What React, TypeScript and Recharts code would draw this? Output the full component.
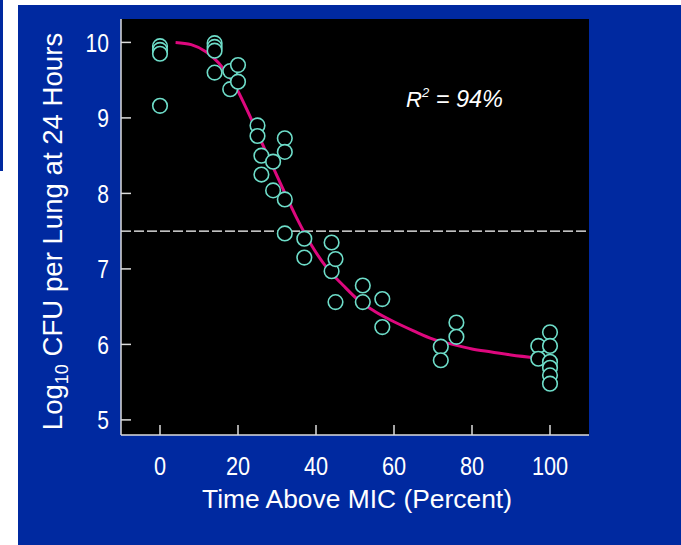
import React from 'react';
import { ComposedChart, Line, Scatter, XAxis, YAxis, ReferenceLine, CartesianGrid } from 'recharts';

// Observed points: time above MIC (%) and log10 CFU per lung at 24 h
const timeAboveMic = [0, 0, 0, 0, 14, 14, 14, 14, 18, 18, 20, 20, 25, 25, 26, 26, 29, 29, 32, 32, 32, 32, 37, 37, 44, 44, 45, 45, 52, 52, 57, 57, 72, 72, 76, 76, 97, 97, 100, 100, 100, 100, 100, 100];
const logCfu = [9.95, 9.9, 9.85, 9.16, 9.99, 9.94, 9.89, 9.6, 9.62, 9.38, 9.7, 9.48, 8.9, 8.76, 8.5, 8.25, 8.42, 8.04, 8.73, 8.55, 7.92, 7.47, 7.4, 7.15, 7.35, 6.97, 7.13, 6.56, 6.78, 6.56, 6.6, 6.23, 5.97, 5.79, 6.29, 6.1, 5.98, 5.81, 6.16, 5.98, 5.77, 5.69, 5.59, 5.48];

// Fitted sigmoid curve
const fitX = [4, 8, 12, 15, 19, 23, 27, 31, 35, 39, 43, 47, 51, 55, 60, 65, 70, 75, 80, 85, 90, 97];
const fitY = [10.0, 9.97, 9.87, 9.73, 9.45, 9.03, 8.57, 8.12, 7.68, 7.3, 7.0, 6.78, 6.58, 6.44, 6.3, 6.18, 6.07, 6.0, 5.94, 5.9, 5.86, 5.82];

const xTicks = [0, 20, 40, 60, 80, 100];
const yTicks = [5, 6, 7, 8, 9, 10];
const threshold = 7.5;
const xDomain = [-10, 110];
const yDomain = [4.8, 10.31];

const points = timeAboveMic.map((x, i) => ({ x, y: logCfu[i] }));
const fit = fitX.map((x, i) => ({ x, y: fitY[i] }));

const FONT = "'Liberation Sans', Arial, Helvetica, sans-serif";
const AXIS = '#dcdcdc';
const BLUE = '#0029A0';
const CYAN = '#6EDDC9';
const MAGENTA = '#DE087E';

const LeftTick = (props: any) => {
  const { x, y, payload } = props;
  return (
    <g>
      <line x1={x} x2={x + 10} y1={y} y2={y} stroke={AXIS} strokeWidth={1.5} />
      <text transform={`translate(${x - 12},${y + 9.3}) scale(0.81,1)`} textAnchor="end" fill="#fff" fontSize={26} fontFamily={FONT}>
        {payload.value}
      </text>
    </g>
  );
};

const RightTick = (props: any) => {
  const { x, y } = props;
  return <line x1={x - 10} x2={x} y1={y} y2={y} stroke={AXIS} strokeWidth={1.5} />;
};

const BottomTick = (props: any) => {
  const { x, y, payload } = props;
  return (
    <g>
      <line x1={x} x2={x} y1={y - 10} y2={y} stroke={AXIS} strokeWidth={1.5} />
      <text transform={`translate(${x},${y + 40}) scale(0.82,1)`} textAnchor="middle" fill="#fff" fontSize={26.5} fontFamily={FONT}>
        {payload.value}
      </text>
    </g>
  );
};

const Dot = (props: any) => {
  const { cx, cy } = props;
  return <circle cx={cx} cy={cy} r={7.3} fill="#000" stroke={CYAN} strokeWidth={1.6} />;
};

export default function App() {
  return (
    <div style={{ position: 'absolute', left: 0, top: 0, width: 681, height: 545, background: '#fff', overflow: 'hidden' }}>
      <div style={{ position: 'absolute', left: 0, top: 0, width: 3, height: 171, background: BLUE }} />
      <div style={{ position: 'absolute', left: 18, top: 5, width: 663, height: 540, background: BLUE }} />
      <div style={{ position: 'absolute', left: 0, top: 0 }}>
        <ComposedChart width={681} height={545} margin={{ top: 19, right: 92, bottom: 0, left: 0 }}>
          <CartesianGrid fill="#000" horizontal={false} vertical={false} stroke="none" />
          <XAxis
            type="number"
            dataKey="x"
            domain={xDomain}
            allowDataOverflow
            ticks={xTicks}
            interval={0}
            height={110}
            tickSize={0}
            tickMargin={0}
            tickLine={false}
            axisLine={{ stroke: AXIS, strokeWidth: 1.5 }}
            tick={<BottomTick />}
          />
          <YAxis
            yAxisId="l"
            type="number"
            dataKey="y"
            domain={yDomain}
            allowDataOverflow
            ticks={yTicks}
            interval={0}
            width={121}
            tickSize={0}
            tickMargin={0}
            tickLine={false}
            axisLine={{ stroke: AXIS, strokeWidth: 1.5 }}
            tick={<LeftTick />}
          />
          <YAxis
            yAxisId="r"
            orientation="right"
            type="number"
            domain={yDomain}
            allowDataOverflow
            ticks={yTicks}
            interval={0}
            width={0}
            tickSize={0}
            tickMargin={0}
            tickLine={false}
            axisLine={{ stroke: AXIS, strokeWidth: 1.5 }}
            tick={<RightTick />}
          />
          <ReferenceLine yAxisId="l" y={threshold} stroke="#fff" strokeWidth={1.3} strokeDasharray="10 3" />
          <Line yAxisId="l" data={fit} dataKey="y" type="monotone" stroke={MAGENTA} strokeWidth={3} dot={false} isAnimationActive={false} />
          <Scatter yAxisId="l" data={points} dataKey="y" shape={<Dot />} isAnimationActive={false} />
        </ComposedChart>
      </div>
      <svg width={681} height={545} style={{ position: 'absolute', left: 0, top: 0, pointerEvents: 'none' }}>
        <text transform="translate(61.5,231.5) rotate(-90)" textAnchor="middle" fill="#fff" fontSize={27.6} fontFamily={FONT}>
          Log<tspan fontSize={18} dy={6}>10</tspan>
          <tspan dy={-6}> CFU per Lung at 24 Hours</tspan>
        </text>
        <text x={357} y={508} textAnchor="middle" fill="#fff" fontSize={26.4} fontFamily={FONT}>
          Time Above MIC (Percent)
        </text>
        <text x={406} y={107} fill="#fff" fontSize={22} fontStyle="italic" fontFamily={FONT}>
          R<tspan fontSize={13} dy={-10.5}>2</tspan>
          <tspan dy={10.5} fontSize={23.5}> = 94%</tspan>
        </text>
      </svg>
    </div>
  );
}
